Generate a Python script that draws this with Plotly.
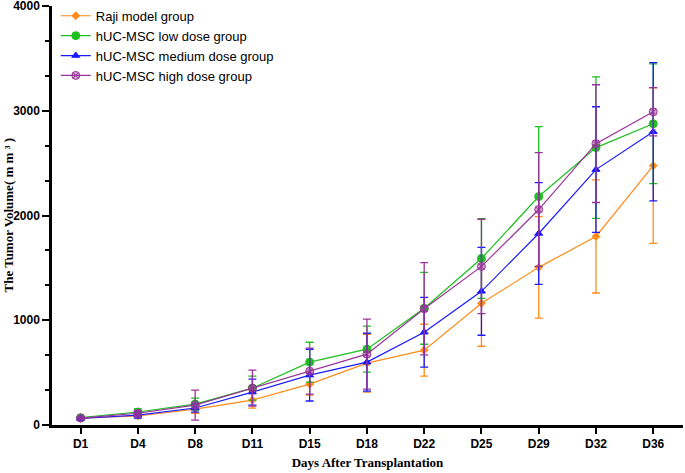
import plotly.graph_objects as go

days = ["D1", "D4", "D8", "D11", "D15", "D18", "D22", "D25", "D29", "D32", "D36"]

raji = [65, 86, 152, 238, 390, 590, 714, 1162, 1505, 1800, 2476]
raji_sd = [10, 20, 40, 76, 104, 276, 248, 410, 485, 540, 743]

low = [70, 124, 200, 352, 600, 724, 1114, 1590, 2181, 2648, 2876]
low_sd = [10, 30, 57, 115, 190, 220, 343, 381, 667, 676, 572]

medium = [62, 95, 162, 314, 476, 600, 886, 1276, 1828, 2438, 2800]
medium_sd = [10, 30, 40, 124, 247, 276, 333, 419, 486, 600, 660]

high = [66, 112, 190, 352, 514, 676, 1110, 1514, 2057, 2686, 2990]
high_sd = [10, 25, 143, 172, 219, 334, 440, 450, 543, 562, 230]

series = [
    ("Raji model group", raji, raji_sd, "#FF8C1A", "diamond", 6, "#FF8C1A"),
    ("hUC-MSC low dose group", low, low_sd, "#1FBF1F", "circle", 8, "#1FBF1F"),
    ("hUC-MSC medium dose group", medium, medium_sd, "#1A1AFF", "triangle-up", 7, "#1A1AFF"),
    ("hUC-MSC high dose group", high, high_sd, "#993399", "circle-x", 8, "rgba(153,51,153,0.45)"),
]

x = list(range(len(days)))
fig = go.Figure()
for name, vals, sd, col, sym, sz, fill in series:
    fig.add_trace(go.Scatter(
        x=x, y=vals, name=name, mode="lines+markers",
        line=dict(color=col, width=1.2),
        marker=dict(color=fill, symbol=sym, size=sz, line=dict(color=col, width=1)),
        error_y=dict(type="data", array=sd, visible=True, color=col, thickness=1.3, width=4),
    ))

fig.add_annotation(
    text="<b>The Tumor Volume( m m ³ )</b>", textangle=-90,
    xref="paper", yref="paper", x=-0.0697, y=0.5, xanchor="center", yanchor="middle",
    showarrow=False, font=dict(size=13, family="Liberation Serif, Times New Roman", color="black"),
)

fig.update_layout(
    width=685, height=473,
    margin=dict(l=52, r=2, t=5, b=48),
    paper_bgcolor="white", plot_bgcolor="white",
    font=dict(family="Liberation Sans, Arial", color="black"),
    legend=dict(x=0.006, y=1.01, xanchor="left", yanchor="top",
                font=dict(size=13, family="Liberation Sans, Arial"),
                bgcolor="rgba(0,0,0,0)", tracegroupgap=0),
    xaxis=dict(
        range=[-0.5, 10.52], tickvals=x, ticktext=days, automargin=False,
        showline=True, linecolor="black", linewidth=2.5,
        ticks="outside", ticklen=6, tickwidth=2, tickcolor="black",
        showgrid=False, zeroline=False, ticklabeloverflow="allow",
        tickfont=dict(size=12, family="Liberation Sans, Arial", weight="bold"),
        title=dict(text="<b>Days After Transplantation</b>",
                   font=dict(size=13, family="Liberation Serif, Times New Roman"), standoff=8),
    ),
    yaxis=dict(
        range=[0, 4000], tickvals=[0, 1000, 2000, 3000, 4000], automargin=False,
        showline=True, linecolor="black", linewidth=2.5,
        ticks="outside", ticklen=7, tickwidth=2, tickcolor="black",
        minor=dict(tickvals=[333.3, 666.7, 1333.3, 1666.7, 2333.3, 2666.7, 3333.3, 3666.7],
                   ticks="outside", ticklen=4, tickwidth=2, tickcolor="black"),
        showgrid=False, zeroline=False, ticklabeloverflow="allow",
        tickfont=dict(size=12, family="Liberation Sans, Arial", weight="bold"),
    ),
)

fig.write_html("out.html", config={"displayModeBar": False},
               post_script="document.body.style.margin='0';")
